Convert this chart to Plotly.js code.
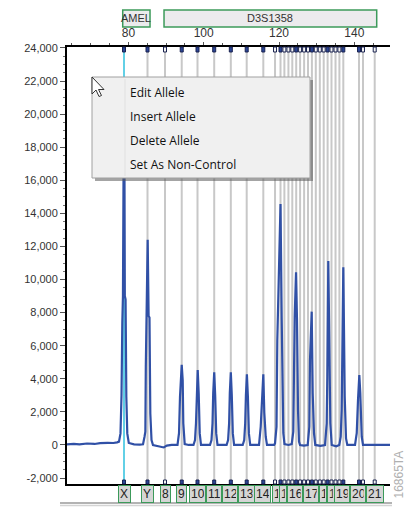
<!DOCTYPE html>
<html><head><meta charset="utf-8">
<script src="https://cdn.plot.ly/plotly-3.0.1.min.js"></script>
<style>html,body{margin:0;padding:0;background:#fff}#chart{width:406px;height:508px}</style>
</head><body><div id="chart"></div>
<script>
// ---- electropherogram trace (size in bp, signal in RFU) ----
const traceBp = [63.69,65.5,67.0,69.0,71.0,72.5,74.5,76.0,77.0,
  77.50,77.90,78.17,78.38,78.55,78.70,78.80,78.92,79.05,79.25,79.45,79.70,80.10,81.5,83.0,
  83.88,84.28,84.50,84.62,84.94,85.12,85.37,85.60,85.82,86.14,86.53,88.0,88.6,89.4,90.2,91.5,
  93.04,93.44,93.70,94.16,94.42,94.58,94.95,96.0,
  97.29,97.69,97.95,98.14,98.41,98.67,98.94,99.28,
  101.67,102.07,102.34,102.52,102.79,103.05,103.32,103.66,
  106.08,106.48,106.75,106.93,107.20,107.46,107.73,108.07,
  110.36,110.76,111.02,111.21,111.47,111.74,112.00,112.35,
  114.69,115.14,115.56,115.83,116.10,116.47,116.81,
  118.70,118.94,119.34,119.55,119.81,120.13,120.40,120.72,120.98,121.14,121.46,122.5,
  123.37,123.80,123.98,124.17,124.52,124.78,125.05,125.31,125.58,126.6,
  127.62,128.05,128.23,128.50,128.68,128.95,129.29,129.64,131.0,
  132.22,132.67,132.83,133.09,133.36,133.63,134.00,135.2,
  136.01,136.39,136.65,136.92,137.08,137.26,137.45,137.80,138.14,
  140.19,140.64,140.98,141.33,141.59,141.97,142.31,149.48];
const traceRfu = [40,70,40,90,60,110,130,120,160,
  200,700,3000,7400,9000,16000,19500,19500,9000,8800,2900,700,120,40,20,
  40,500,800,4700,10000,12400,7800,7700,1900,300,0,-60,-120,-150,-40,0,
  0,710,2920,4840,3930,1310,50,0,
  0,300,1310,3125,4530,3125,700,0,
  0,300,1310,3125,4390,3000,700,0,
  0,300,1310,3125,4390,3000,700,0,
  0,300,1310,3000,4270,2900,700,0,
  0,1100,3140,4270,1930,500,0,
  0,100,1100,6350,8960,13000,14570,7560,2320,725,50,0,
  50,800,4330,7760,10440,7560,2120,200,0,-40,
  0,1100,5140,7560,8060,3125,710,0,-50,
  0,1310,4130,11120,6350,1310,0,-80,
  0,500,2120,8570,10740,7000,2920,400,0,
  0,710,2720,4230,3125,500,0,0];

// ---- allele bins ----
const binNames = ['X','Y','8','9','10','11','12','13','14','14.3','15','15.1','15.2','15.3','16','16.1','16.2','16.3',
  '17','17.1','17.2','17.3','18','18.1','18.2','18.3','19','20','20.1','21'];
const binBp = [78.83,85.07,89.72,94.16,98.35,102.79,107.20,111.42,115.83,118.94,120.40,121.43,122.50,123.53,124.57,125.60,126.67,127.70,
  128.74,129.77,130.84,131.87,132.91,133.94,135.01,136.04,137.08,141.25,142.31,145.42];
const calledAlleles = ['X','Y','9','10','11','12','13','14','15','16','17','18','19','20'];
const labeledBins = ['X','Y','8','9','10','11','12','13','14','15','15.2','16','17','18','18.2','19','20','21'];
const selectedBin = 'X';

// ---- loci ----
const lociNames = ['AMEL','D3S1358'];
const lociStart = [78.49, 89.46];
const lociEnd = [85.74, 145.95];

// ---- axes ----
const xTicks = [80,100,120,140];
const xRange = [63.69,149.48];
const yTicks = [-2000,0,2000,4000,6000,8000,10000,12000,14000,16000,18000,20000,22000,24000];
const yRange = [-2360,24060];

const menuItems = ['Edit Allele','Insert Allele','Delete Allele','Set As Non-Control'];
const figureId = '16865TA';

// ---- layout geometry (pixels) ----
const W=406,H=508,ML=67,MR=16,MT=47,MB=24;
const PW=W-ML-MR, PH=H-MT-MB;
const px=(x)=>(x-ML)/PW, py=(y)=>(H-MB-y)/PH;
const pxPerBp = PW/(xRange[1]-xRange[0]);
const bpToPx=(b)=>ML+(b-xRange[0])*pxPerBp, pxToBp=(p)=>xRange[0]+(p-ML)/pxPerBp;

const GREEN='#3c9a5a', BLUE='#3050a6';
const LBL_FONT='Liberation Sans, Arial';
const shapes=[], annotations=[];

// bin lines
binNames.forEach((n,i)=>{
  shapes.push({type:'line',layer:'below',xref:'x',yref:'paper',x0:binBp[i],x1:binBp[i],y0:0,y1:1,
    line:{color:n===selectedBin?'#62d0e6':'#c8c8c8',width:2}});
});
// bin markers on top & bottom axis lines
binNames.forEach((n,i)=>{
  const called = calledAlleles.includes(n);
  [[1,-5,0],[0,0,4]].forEach(([anc,a,b])=>{
    shapes.push({type:'rect',layer:'above',xref:'x',yref:'paper',xsizemode:'pixel',ysizemode:'pixel',
      xanchor:binBp[i],yanchor:anc,x0:-1.5,x1:1.5,y0:a,y1:b,
      fillcolor:called?'#2a4596':'#f4f4f4',line:{color:'#1a2350',width:1}});
  });
});
// loci boxes
lociNames.forEach((n,i)=>{
  shapes.push({type:'rect',layer:'above',xref:'x',yref:'paper',x0:lociStart[i],x1:lociEnd[i],y0:py(27),y1:py(10),
    fillcolor:'#ecebed',line:{color:GREEN,width:1.5}});
  annotations.push({xref:'x',yref:'paper',x:(lociStart[i]+lociEnd[i])/2,y:py(18.5),text:n,showarrow:false,
    font:{family:LBL_FONT,size:11,color:'#333'},yanchor:'middle'});
});
// allele label boxes at the bottom: each box is covered by the next one, as in the software view
const ctx=document.createElement('canvas').getContext('2d');
ctx.font='12px "Liberation Sans", Arial';
const boxes=labeledBins.map(n=>{
  const c=bpToPx(binBp[binNames.indexOf(n)]);
  const tw=Math.ceil(ctx.measureText(n.length>2?n.slice(0,2):n).width);
  return {n:n,c:c,tw:tw,L:c-(tw+4)/2};
});
boxes.forEach((b,k)=>{
  let w=b.tw;
  if(k<boxes.length-1){ const room=boxes[k+1].L-b.L-4; if(room<w) w=Math.max(1,room); }
  annotations.push({xref:'x',yref:'paper',x:pxToBp(b.L),xanchor:'left',y:py(493.5),yanchor:'middle',
    text:b.n,showarrow:false,width:w,align:'left',
    font:{family:LBL_FONT,size:12,color:'#222'},bgcolor:'#d5d5d5',bordercolor:GREEN,borderwidth:1,borderpad:1});
});
// bottom double rule
shapes.push({type:'line',xref:'paper',yref:'paper',x0:px(60),x1:px(392),y0:py(503),y1:py(503),line:{color:'#9a9a9a',width:1.5}});
shapes.push({type:'line',xref:'paper',yref:'paper',x0:px(60),x1:px(392),y0:py(505.5),y1:py(505.5),line:{color:'#d4d4d4',width:1.5}});
// context menu
shapes.push({type:'rect',layer:'above',xref:'paper',yref:'paper',x0:px(95),x1:px(313),y0:py(181),y1:py(80),fillcolor:'rgba(90,90,90,0.55)',line:{width:0}});
shapes.push({type:'rect',layer:'above',xref:'paper',yref:'paper',x0:px(92),x1:px(310),y0:py(178),y1:py(77),fillcolor:'#f0f0f0',line:{color:'#a0a0a0',width:1}});
shapes.push({type:'line',layer:'above',xref:'paper',yref:'paper',x0:px(125),x1:px(125),y0:py(176),y1:py(79),line:{color:'#e0e0e0',width:1}});
menuItems.forEach((t,k)=>{
  annotations.push({xref:'paper',yref:'paper',x:px(128),y:py(92+24*k),xanchor:'left',yanchor:'middle',text:t,showarrow:false,
    font:{family:'Open Sans, Noto Sans',size:12,color:'#111'}});
});
// mouse cursor
const cur=[[0,0],[0,17],[4,13],[7,19.5],[9.5,18.5],[6.5,12.5],[12,12.5]];
shapes.push({type:'path',layer:'above',xref:'paper',yref:'paper',
  path:'M'+cur.map(([a,b])=>px(92+a)+','+py(77+b)).join('L')+'Z',fillcolor:'#ffffff',line:{color:'#333',width:1}});
// figure id
annotations.push({xref:'paper',yref:'paper',x:px(398.5),y:py(475),text:figureId,textangle:-90,showarrow:false,
  font:{family:LBL_FONT,size:12,color:'#b0b0b0'},xanchor:'center',yanchor:'middle',borderpad:0});

const data=[{type:'scatter',mode:'lines',x:traceBp,y:traceRfu,line:{color:BLUE,width:2.2},hoverinfo:'skip',showlegend:false}];

const layout={width:W,height:H,margin:{l:ML,r:MR,t:MT,b:MB,pad:0},paper_bgcolor:'#fff',plot_bgcolor:'#fff',
  showlegend:false,
  xaxis:{range:xRange,side:'top',tickvals:xTicks,ticktext:xTicks.map(String),ticks:'outside',ticklen:3,tickcolor:'#555',
    showline:true,linecolor:'#000',linewidth:2,mirror:true,showgrid:false,zeroline:false,
    tickfont:{family:LBL_FONT,size:12,color:'#333'},
    minor:{dtick:5,tick0:0,ticks:'outside',ticklen:2,tickcolor:'#555',showgrid:false}},
  yaxis:{range:yRange,tickvals:yTicks,ticktext:yTicks.map(v=>v.toLocaleString('en-US')),ticks:'outside',ticklen:5,tickcolor:'#555',
    showline:true,linecolor:'#000',linewidth:2,showgrid:false,zeroline:false,
    tickfont:{family:LBL_FONT,size:11,color:'#333'},
    minor:{dtick:500,tick0:0,ticks:'outside',ticklen:2,tickcolor:'#777',showgrid:false}},
  shapes:shapes,annotations:annotations};

Plotly.newPlot('chart',data,layout,{staticPlot:true,displayModeBar:false});
</script></body></html>
